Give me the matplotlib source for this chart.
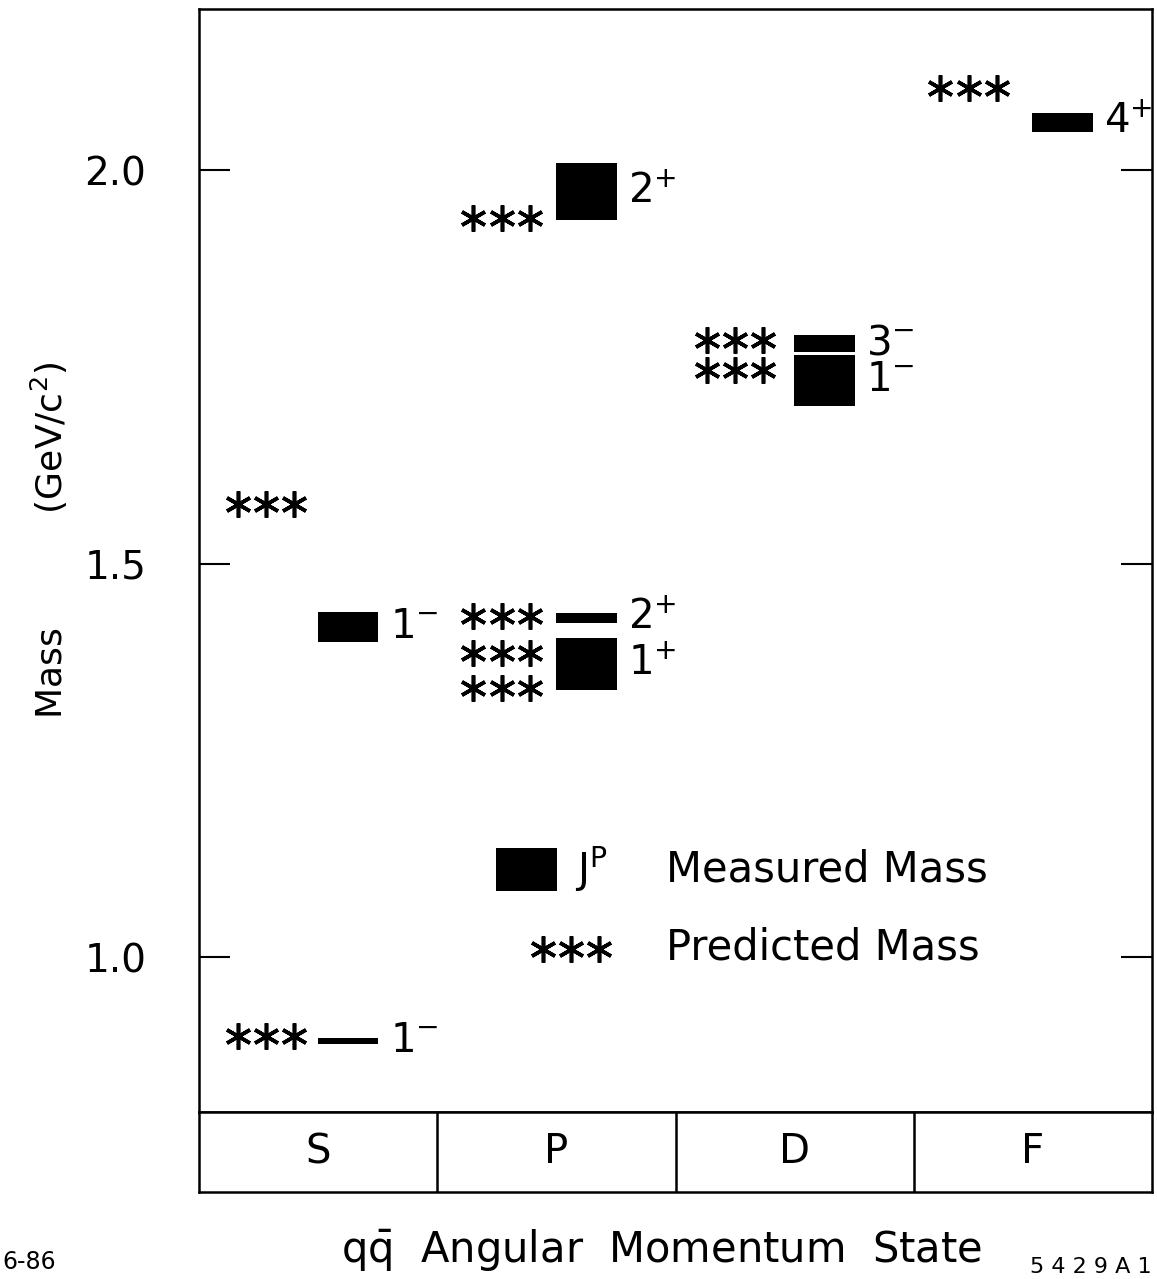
import numpy as np
import matplotlib.pyplot as plt

plt.rcParams['font.family'] = 'DejaVu Sans'
plt.rcParams['mathtext.fontset'] = 'dejavusans'

# orbital states
states = ['S', 'P', 'D', 'F']

# measured masses (GeV/c^2), column index, half width of the bar, J^P
meas_col = [0, 0, 1, 1, 1, 2, 2, 3]
meas_mass = [0.893, 1.419, 1.431, 1.372, 1.973, 1.780, 1.733, 2.061]
meas_err = [0.004, 0.019, 0.006, 0.033, 0.036, 0.011, 0.032, 0.012]
meas_jp = ['1^{-}', '1^{-}', '2^{+}', '1^{+}', '2^{+}', '3^{-}', '1^{-}', '4^{+}']

# predicted masses
pred_col = [0, 0, 1, 1, 1, 1, 2, 2, 3]
pred_mass = [0.899, 1.576, 1.939, 1.434, 1.387, 1.342, 1.784, 1.746, 2.104]

yticks = [1.0, 1.5, 2.0]
ytick_labels = ['1.0', '1.5', '2.0']

# layout
star_off = {0: 0.28, 1: 0.27, 2: 0.25, 3: 0.23}
bar_off = 0.625
bar_w = 0.255
lab_off = 0.80
star_dx = 0.118

fig = plt.figure(figsize=(11.57, 12.79), dpi=100)
ax = fig.add_axes([199/1157, 1-1112/1279, (1152-199)/1157, (1112-9)/1279])
axc = fig.add_axes([199/1157, 1-1192/1279, (1152-199)/1157, 80/1279])

ax.set_xlim(0, 4)
ax.set_ylim(0.803, 2.205)

for sp in ax.spines.values():
    sp.set_linewidth(1.8)
for sp in axc.spines.values():
    sp.set_linewidth(1.8)

# measured bars
xb = np.array(meas_col) + bar_off
mm = np.array(meas_mass)
me = np.array(meas_err)
ax.bar(xb, 2*me, bottom=mm-me, width=bar_w, color='black')
for c, m, jp in zip(meas_col, meas_mass, meas_jp):
    ax.text(c + lab_off, m, '$\\mathregular{' + jp + '}$', fontsize=29,
            va='center', ha='left')

# predicted stars
star = dict(marker=(6, 2, 0), markersize=19, markeredgewidth=2.6,
            color='black', linestyle='none')
for c, m in zip(pred_col, pred_mass):
    x0 = c + star_off[c]
    ax.plot([x0 - star_dx, x0, x0 + star_dx], [m, m, m], **star)

# legend (hand drawn like the original)
ax.bar([1.375], [0.054], bottom=[1.111 - 0.027], width=0.255, color='black')
ax.text(1.58, 1.111, 'J$^\\mathregular{P}$', fontsize=29, va='center', ha='left')
ax.text(1.96, 1.111, 'Measured Mass', fontsize=30, va='center', ha='left')
ax.plot([1.56 - star_dx, 1.56, 1.56 + star_dx], [1.010]*3, **star)
ax.text(1.96, 1.012, 'Predicted Mass', fontsize=30, va='center', ha='left')

ax.set_xticks([])
ax.set_yticks(yticks)
ax.set_yticklabels(ytick_labels, fontsize=28)
ax.tick_params(axis='y', direction='in', length=22, width=1.5, pad=38,
               right=True)
ax.set_ylabel('Mass          (GeV/c$^\\mathregular{2}$)', fontsize=26, labelpad=10)
ax.yaxis.label.set_y(0.518)

# state row
axc.set_xlim(0, 4)
axc.set_ylim(0, 1)
axc.set_xticks([])
axc.set_yticks([])
for i in range(1, 4):
    axc.axvline(i, color='black', lw=1.8)
for i, s in enumerate(states):
    axc.text(i + 0.5, 0.5, s, fontsize=29, ha='center', va='center')

fig.text(662/1157, 1-1250/1279, 'q$\\mathregular{\\bar{q}}$  Angular  Momentum  State',
         fontsize=30, ha='center', va='center')
fig.text(2/1157, 1-1262/1279, '6-86', fontsize=17, ha='left', va='center')
fig.text(1152/1157, 1-1267/1279, '5 4 2 9 A 1', fontsize=16, ha='right', va='center')

plt.savefig('out.png', dpi=100)
